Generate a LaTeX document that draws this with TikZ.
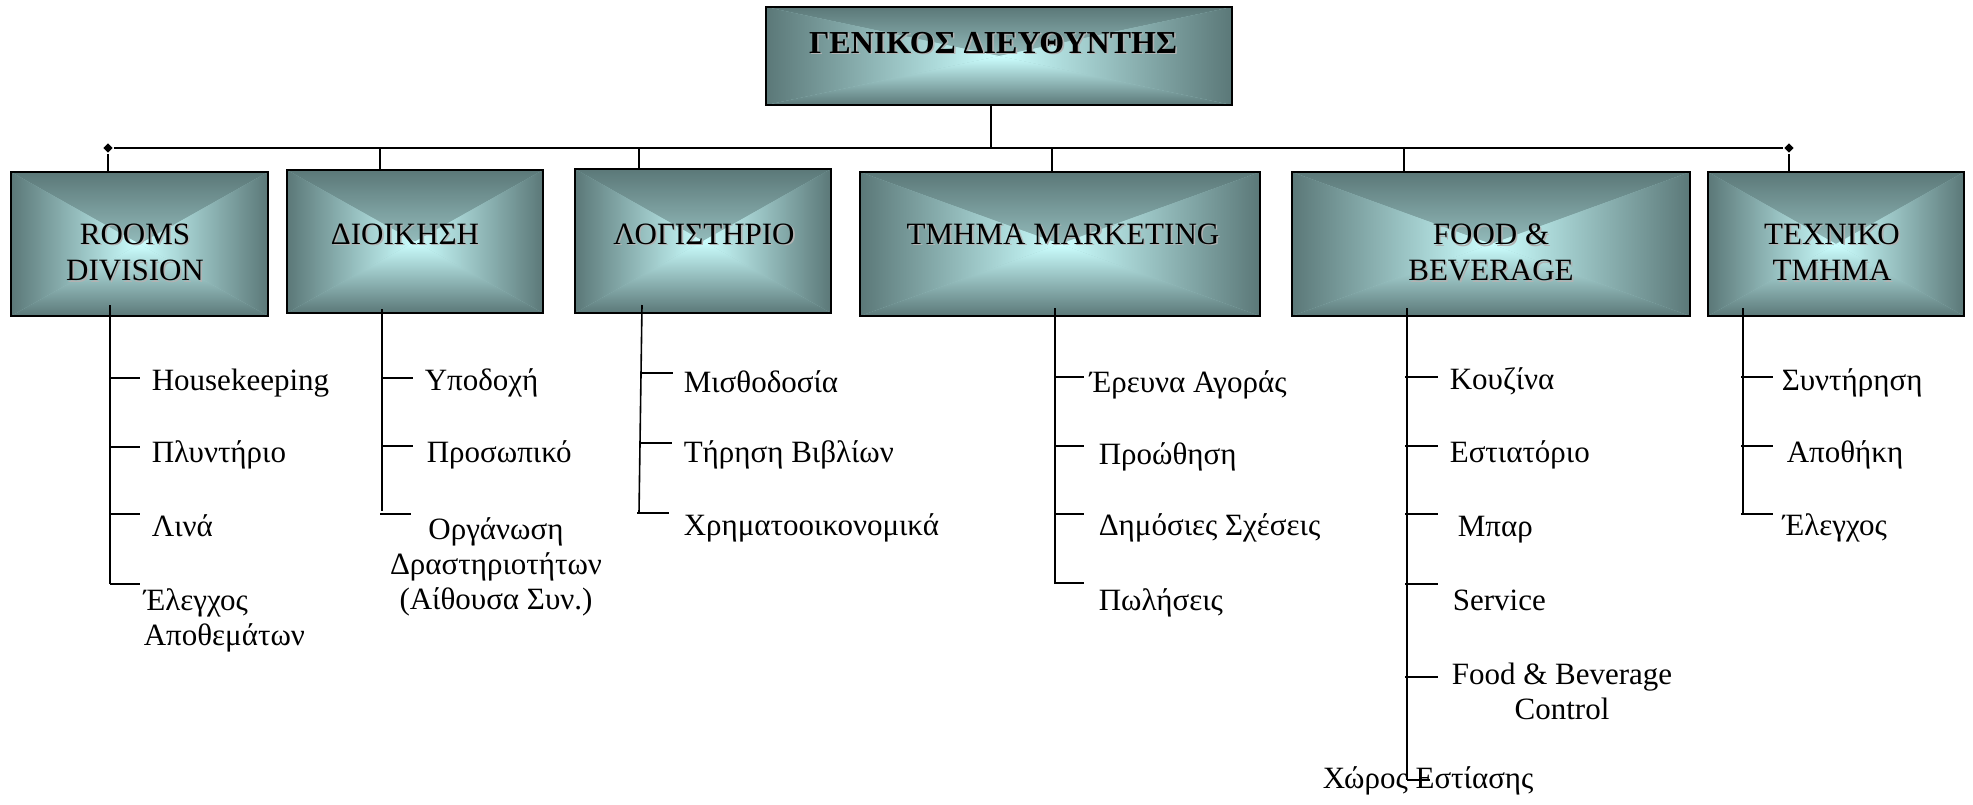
\documentclass[tikz,border=0pt]{standalone}
\usepackage{fontspec}
\setmainfont{Liberation Serif}
\usetikzlibrary{shapes.geometric}

\definecolor{cedge}{HTML}{5B7878}
\definecolor{clight}{HTML}{CCFFFF}
\newcommand{\shtext}[1]{\rlap{\hspace{1.6pt}\raisebox{-1.6pt}{\textcolor{black!30}{#1}}}#1}

\begin{document}
\begin{tikzpicture}[
  x=1pt, y=-1pt,
  line width=1.6pt,
  dept/.style={draw, line width=1.8pt, inner sep=0pt, fill=cedge!40!clight,
    path picture={
      \shade[top color=cedge, middle color=cedge!38!clight, bottom color=clight] (path picture bounding box.north west)
        -- (path picture bounding box.north east) -- (path picture bounding box.center) -- cycle;
      \shade[top color=clight, middle color=cedge!38!clight, bottom color=cedge] (path picture bounding box.south west)
        -- (path picture bounding box.south east) -- (path picture bounding box.center) -- cycle;
      \shade[left color=cedge, middle color=cedge!38!clight, right color=clight] (path picture bounding box.north west)
        -- (path picture bounding box.south west) -- (path picture bounding box.center) -- cycle;
      \shade[left color=clight, middle color=cedge!38!clight, right color=cedge] (path picture bounding box.north east)
        -- (path picture bounding box.south east) -- (path picture bounding box.center) -- cycle;
    }},
  dname/.style={font=\fontsize{31}{36.5}\selectfont, align=center, inner sep=0pt, anchor=north},
  item/.style={font=\fontsize{31}{35}\selectfont, inner sep=0pt, anchor=base west},
  junc/.style={diamond, fill, inner sep=0pt, minimum size=10pt},
]
\useasboundingbox (0,0) rectangle (1973,804);

% top
\node[dept, minimum width=466pt, minimum height=98pt] (gm) at (999,56) {};
\node[font=\bfseries\fontsize{32}{38}\selectfont, inner sep=0pt, anchor=base] (gmt) at (993,53) {\shtext{ΓΕΝΙΚΟΣ ΔΙΕΥΘΥΝΤΗΣ}};

% departments
\node[dept, minimum width=257pt, minimum height=144pt] (rooms) at (139.5,244) {};
\node[dept, minimum width=256pt, minimum height=143pt] (dioik) at (415,241.5) {};
\node[dept, minimum width=256pt, minimum height=144pt] (logist) at (703,241) {};
\node[dept, minimum width=400pt, minimum height=144pt] (mark) at (1060,244) {};
\node[dept, minimum width=398pt, minimum height=144pt] (fnb) at (1491,244) {};
\node[dept, minimum width=256pt, minimum height=144pt] (tech) at (1836,244) {};

\node[dname] (roomsl) at (135,223) {\shtext{ROOMS}\\\shtext{DIVISION}};
\node[dname] (dioikl) at (405,223) {\shtext{ΔΙΟΙΚΗΣΗ}};
\node[dname] (logistl) at (704,223) {\shtext{ΛΟΓΙΣΤΗΡΙΟ}};
\node[dname] (markl) at (1063,223) {\shtext{ΤΜΗΜΑ MARKETING}};
\node[dname] (fnbl) at (1491,223) {\shtext{FOOD \&}\\\shtext{BEVERAGE}};
\node[dname] (techl) at (1832,223) {\shtext{ΤΕΧΝΙΚΟ}\\\shtext{ΤΜΗΜΑ}};

% bus
\node[junc] (jl) at (108,148) {};
\node[junc] (jr) at (1789,148) {};
\coordinate (jt) at (991,148);
\coordinate (j2) at (380,148);
\coordinate (j3) at (639,148);
\coordinate (j4) at (1052,148);
\coordinate (j5) at (1404,148);
\draw (jl) -- (jr);
\draw (gm.south -| jt) -- (jt);
\draw (jl) -- (jl |- rooms.north);
\draw (j2) -- (j2 |- dioik.north);
\draw (j3) -- (j3 |- logist.north);
\draw (j4) -- (j4 |- mark.north);
\draw (j5) -- (j5 |- fnb.north);
\draw (jr) -- (jr |- tech.north);

% rooms division
\coordinate (r0) at (110,305);
\coordinate (r1) at (110,378);
\coordinate (r2) at (110,447);
\coordinate (r3) at (110,514);
\coordinate (r4) at (110,584);
\draw (r0) -- (r4);
\foreach \c in {r1,r2,r3,r4} \draw (\c) -- ++(30,0);
\node[item] (hk) at (151,390) {Housekeeping};
\node[item] (pl) at (151,462) {Πλυντήριο};
\node[item] (li) at (151,536) {Λινά};
\node[item, align=left] (ea) at (143,645) {Έλεγχος\\Αποθεμάτων};

% dioikisi
\coordinate (d0) at (382,309);
\coordinate (d1) at (382,378);
\coordinate (d2) at (382,446);
\coordinate (d3) at (380,514);
\draw (d0) -- (382,511);
\foreach \c in {d1,d2,d3} \draw (\c) -- ++(31,0);
\node[item] (yp) at (424,390) {Υποδοχή};
\node[item] (pr) at (426,462) {Προσωπικό};
\node[item, anchor=base, align=center] (or) at (496,609) {Οργάνωση\\Δραστηριοτήτων\\(Αίθουσα Συν.)};

% logistirio
\coordinate (l0) at (642,305);
\coordinate (l1) at (641,373);
\coordinate (l2) at (640,443);
\coordinate (l3) at (637,513);
\draw (l0) -- (639,513);
\foreach \c in {l1,l2,l3} \draw (\c) -- ++(32,0);
\node[item] (mi) at (683,392) {Μισθοδοσία};
\node[item] (tb) at (683,462) {Τήρηση Βιβλίων};
\node[item] (xo) at (683,535) {Χρηματοοικονομικά};

% marketing
\coordinate (m0) at (1055,308);
\coordinate (m1) at (1054,377);
\coordinate (m2) at (1054,446);
\coordinate (m3) at (1054,514);
\coordinate (m4) at (1054,583);
\draw (m0) -- (1055,583);
\foreach \c in {m1,m2,m3,m4} \draw (\c) -- ++(30,0);
\node[item] (er) at (1089,392) {Έρευνα Αγοράς};
\node[item] (po) at (1098,464) {Προώθηση};
\node[item] (ds) at (1098,535) {Δημόσιες Σχέσεις};
\node[item] (pw) at (1098,610) {Πωλήσεις};

% food & beverage
\coordinate (f0) at (1407,308);
\coordinate (f1) at (1405,377);
\coordinate (f2) at (1405,446);
\coordinate (f3) at (1405,514);
\coordinate (f4) at (1405,584);
\coordinate (f5) at (1405,677);
\coordinate (f6) at (1407,780);
\draw (f0) -- (f6);
\foreach \c in {f1,f2,f3,f4,f5} \draw (\c) -- ++(33,0);
\draw (f6) -- ++(23,0);
\node[item] (ko) at (1449,389) {Κουζίνα};
\node[item] (es) at (1449,462) {Εστιατόριο};
\node[item] (mp) at (1457,536) {Μπαρ};
\node[item] (se) at (1452,610) {Service};
\node[item, anchor=base, align=center] (fc) at (1562,719) {Food \& Beverage\\Control};
\node[item] (xe) at (1322,788) {Χώρος Εστίασης};

% techniko
\coordinate (t0) at (1743,308);
\coordinate (t1) at (1741,377);
\coordinate (t2) at (1741,446);
\coordinate (t3) at (1741,514);
\draw (t0) -- (1743,514);
\foreach \c in {t1,t2,t3} \draw (\c) -- ++(32,0);
\node[item] (sy) at (1781,390) {Συντήρηση};
\node[item] (ap) at (1786,462) {Αποθήκη};
\node[item] (el) at (1782,535) {Έλεγχος};
\end{tikzpicture}
\end{document}
